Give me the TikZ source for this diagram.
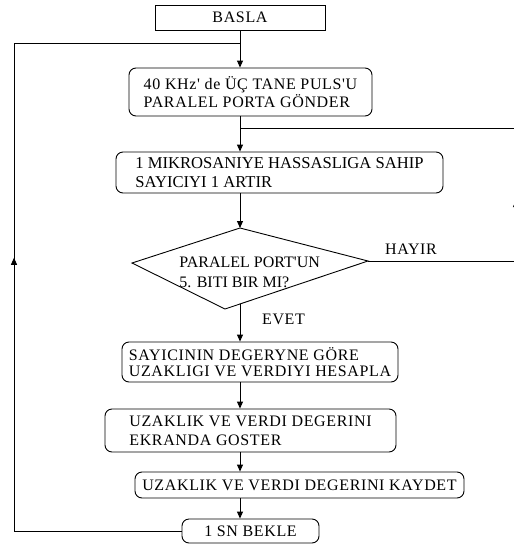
\documentclass[tikz,border=0pt]{standalone}
\usepackage{fontspec}
\newfontfamily\rf{Liberation Serif}[LetterSpace=4]
\newfontfamily\rfn{Liberation Serif}
\usetikzlibrary{arrows.meta,decorations.markings}
\begin{document}
\begin{tikzpicture}[x=1pt,y=-1pt, line width=0.9pt,
  every node/.style={font=\rf\fontsize{16}{18}\selectfont},
  box/.style={draw, rounded corners=7pt, align=left, inner sep=0pt},
  arr/.style={-{Triangle[length=7pt,width=6pt]}},
  midup/.style={postaction=decorate, decoration={markings, mark=at position #1 with {\arrow{Triangle[length=7pt,width=6pt]}}}}
]
\useasboundingbox (0,0) rectangle (514,547);
% boxes
\node[draw, minimum width=170pt, minimum height=25pt, inner sep=0pt] (basla) at (240,17.5) {BASLA};
\node[box, minimum width=243pt, minimum height=48pt] (send) at (250.5,92) {40 KHz' de ÜÇ TANE PULS'U\\PARALEL PORTA GÖNDER};
\node[box, minimum width=327pt, minimum height=41pt, font=\rfn\fontsize{16.6}{19}\selectfont] (count) at (279.5,172.5) {1 MIKROSANIYE HASSASLIGA SAHIP\\SAYICIYI 1 ARTIR};
\coordinate (dtop) at (240,228);
\coordinate (dleft) at (132,263);
\coordinate (dright) at (368,261);
\coordinate (dbot) at (225,309);
\draw (dtop) -- (dright) -- (dbot) -- (dleft) -- cycle;
\node[align=left, anchor=west, font=\rfn\fontsize{16}{20}\selectfont, inner sep=0pt] (q) at (179,272) {PARALEL PORT'UN\\5. BITI BIR MI?};
\node[box, minimum width=276pt, minimum height=40pt, font=\rf\fontsize{16}{16}\selectfont] (calc) at (260,362) {SAYICININ DEGERYNE GÖRE\\UZAKLIGI VE VERDIYI HESAPLA};
\node[box, minimum width=291pt, minimum height=43pt, font=\rf\fontsize{16}{19}\selectfont] (show) at (250.5,430.5) {UZAKLIK VE VERDI DEGERINI\\EKRANDA GOSTER};
\node[draw, rounded corners=7pt, minimum width=329pt, minimum height=26pt, inner sep=0pt] (save) at (299.5,485) {UZAKLIK VE VERDI DEGERINI KAYDET};
\node[draw, rounded corners=7pt, minimum width=137pt, minimum height=24pt, inner sep=0pt] (wait) at (250.5,531) {1 SN BEKLE};
% labels
\node (hayir) at (411,249) {HAYIR};
\node (evet) at (283.5,319) {EVET};
% connectors
\coordinate (j1) at (240,43);
\coordinate (j2) at (240,128);
\coordinate (dout) at (240,304);
\draw[arr] (basla.south) -- (basla.south |- send.north);
\draw[midup=0.5] (wait.west) -- (14,531) -- (14,43) -- (j1);
\draw[arr] (basla.south |- send.south) -- (basla.south |- count.north);
\draw[midup=0.375] (dright) -- (516,261) -- (516,128) -- (j2);
\draw[arr] (basla.south |- count.south) -- (dtop);
\draw[arr] (dout) -- (basla.south |- calc.north);
\draw[arr] (basla.south |- calc.south) -- (basla.south |- show.north);
\draw[arr] (basla.south |- show.south) -- (basla.south |- save.north);
\draw[arr] (basla.south |- save.south) -- (basla.south |- wait.north);
\end{tikzpicture}
\end{document}
